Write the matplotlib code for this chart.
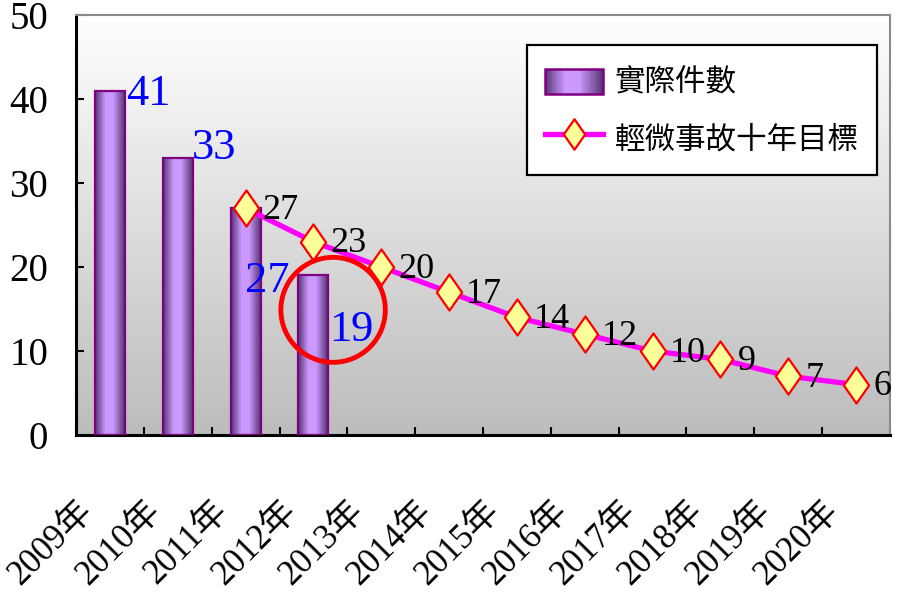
import numpy as np
import matplotlib
matplotlib.use('Agg')
import matplotlib.pyplot as plt
from matplotlib.colors import LinearSegmentedColormap
from matplotlib.patches import Rectangle, Ellipse
from matplotlib.path import Path
from matplotlib.lines import Line2D
from matplotlib.legend_handler import HandlerBase
from matplotlib.transforms import ScaledTranslation

YEARS = ['2009年', '2010年', '2011年', '2012年', '2013年', '2014年',
         '2015年', '2016年', '2017年', '2018年', '2019年', '2020年']
ACTUAL = [41, 33, 27, 19]
TARGET_START = '2011年'
TARGET = [27, 23, 20, 17, 14, 12, 10, 9, 7, 6]
ACTUAL_LABEL = '實際件數'
TARGET_LABEL = '輕微事故十年目標'

# label offsets in pixels (left edge of text, vertical centre)
ACTUAL_OFFSETS = [(16, -3), (14, 10), (-1, -73), (16, -55)]
TARGET_OFFSET = (17, -2)

BAR_EDGE = '#800080'
BAR_CMAP = LinearSegmentedColormap.from_list(
    'bar', [(0, '#553572'), (0.35, '#cc99ff'), (0.6, '#cc99ff'), (1, '#553572')])
BG_CMAP = LinearSegmentedColormap.from_list('bg', ['#bcbcbc', '#ffffff'])
DIAMOND = Path([(0, 1), (0.7, 0), (0, -1), (-0.7, 0), (0, 1)],
               [Path.MOVETO, Path.LINETO, Path.LINETO, Path.LINETO, Path.CLOSEPOLY])

plt.rcParams['font.family'] = ['Liberation Serif', 'Noto Sans CJK TC']


class GradientBarHandler(HandlerBase):
    def create_artists(self, legend, orig_handle, xdescent, ydescent,
                       width, height, fontsize, trans):
        n = 40
        h = height * 0.66
        y0 = -ydescent + (height - h) / 2
        artists = []
        for i in range(n):
            artists.append(Rectangle((-xdescent + width * i / n, y0), width / n * 1.05, h,
                                     facecolor=BAR_CMAP((i + 0.5) / n), edgecolor='none',
                                     transform=trans))
        artists.append(Rectangle((-xdescent, y0), width, h, facecolor='none',
                                 edgecolor=BAR_EDGE, lw=1.8, transform=trans))
        return artists


def plot_chart():
    fig = plt.figure(figsize=(8.99, 6.05), dpi=100)
    ax = fig.add_axes([76 / 899, 170 / 605, (890 - 76) / 899, (435 - 15) / 605])

    # background gradient
    ax.imshow(np.linspace(1, 0, 256).reshape(-1, 1), cmap=BG_CMAP, aspect='auto',
              extent=(0, 1, 0, 1), transform=ax.transAxes, zorder=0)

    x_actual = np.arange(len(ACTUAL))
    bars = ax.bar(x_actual, ACTUAL, 0.44, fill=False, edgecolor=BAR_EDGE, lw=1.6, zorder=3)
    for rect in bars:
        x0, w, h = rect.get_x(), rect.get_width(), rect.get_height()
        ax.imshow(np.linspace(0, 1, 64).reshape(1, -1), cmap=BAR_CMAP, aspect='auto',
                  extent=(x0, x0 + w, 0, h), interpolation='bilinear', zorder=2)

    start = YEARS.index(TARGET_START)
    x_target = np.arange(start, start + len(TARGET))
    ax.plot(x_target, TARGET, color='#ff00ff', lw=3.8, marker=DIAMOND, ms=26,
            mfc='#ffff99', mec='#ff0000', mew=1.6, zorder=4)

    for x, v, off in zip(x_actual, ACTUAL, ACTUAL_OFFSETS):
        ax.annotate(str(v), (x, v), xytext=off, textcoords='offset pixels',
                    ha='left', va='center', color='#0000ff', fontsize=32, zorder=6)
    for x, v in zip(x_target, TARGET):
        ax.annotate(str(v), (x, v), xytext=TARGET_OFFSET, textcoords='offset pixels',
                    ha='left', va='center', color='black', fontsize=26, zorder=6)

    ax.add_patch(Ellipse((3.29, 14.9), 1.54, 12.5, fill=False,
                         edgecolor='#ff0000', lw=3.5, zorder=5))

    ax.set_xlim(-0.5, len(YEARS) - 0.5)
    ax.set_ylim(0, 50)
    ax.set_yticks(range(0, 51, 10))
    ax.tick_params(axis='y', direction='in', length=6, width=1.5, pad=20, labelsize=28)
    ax.set_xticks(np.arange(-0.5, len(YEARS), 1))
    ax.tick_params(axis='x', which='major', direction='in', length=6, width=1.5,
                   labelbottom=False)
    ax.set_xticks(np.arange(len(YEARS)), YEARS, minor=True)
    ax.tick_params(axis='x', which='minor', length=0, pad=0, labelsize=25)
    shift = ScaledTranslation(-0.22, -0.71, fig.dpi_scale_trans)
    for lbl in ax.get_xticklabels(minor=True):
        lbl.set_rotation(45)
        lbl.set_ha('right')
        lbl.set_va('center')
        lbl.set_rotation_mode('anchor')
        lbl.set_transform(lbl.get_transform() + shift)

    for side in ['left', 'bottom']:
        ax.spines[side].set_linewidth(2.2)
        ax.spines[side].set_color('black')
    for side in ['top', 'right']:
        ax.spines[side].set_linewidth(1.5)
        ax.spines[side].set_color('#8a8a8a')

    bar_handle = Rectangle((0, 0), 1, 1)
    line_handle = Line2D([], [], color='#ff00ff', lw=3.8, marker=DIAMOND, ms=22,
                         mfc='#ffff99', mec='#ff0000', mew=1.6)
    leg = ax.legend([bar_handle, line_handle], [ACTUAL_LABEL, TARGET_LABEL],
                    handler_map={bar_handle: GradientBarHandler()},
                    prop={'family': 'Noto Sans CJK TC', 'size': 22},
                    loc='upper left', bbox_to_anchor=(527 / 899, 1 - 45 / 605),
                    bbox_transform=fig.transFigure, borderaxespad=0,
                    frameon=True, fancybox=False, framealpha=1, edgecolor='black',
                    borderpad=0.58, labelspacing=0.62, handlelength=1.9,
                    handleheight=1.52, handletextpad=0.4)
    leg.get_frame().set_linewidth(1.6)
    leg.set_zorder(7)

    fig.savefig('out.png', dpi=100)


if __name__ == "__main__":
    plot_chart()
